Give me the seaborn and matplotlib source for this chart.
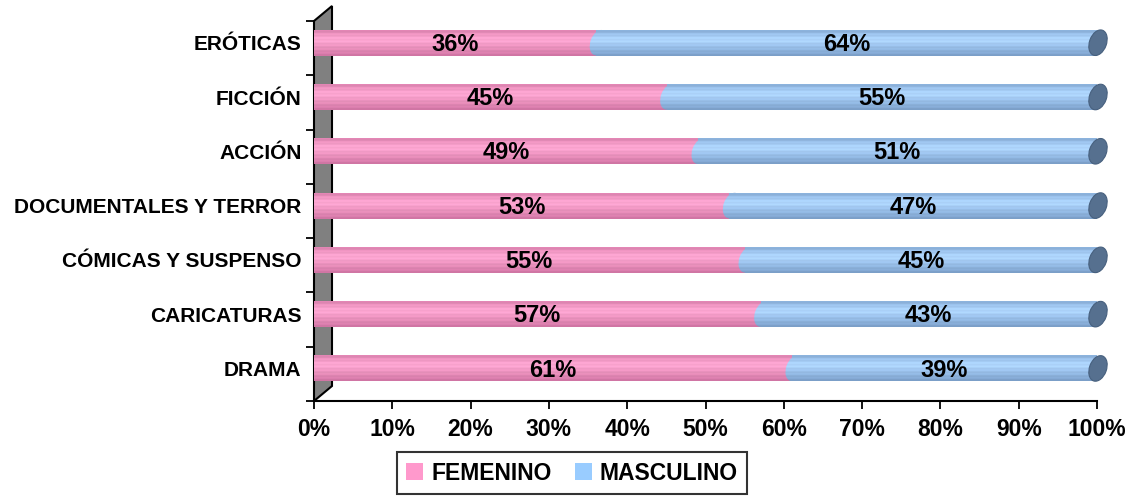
import numpy as np
import pandas as pd
import matplotlib
matplotlib.use("Agg")
import matplotlib.pyplot as plt
import matplotlib.transforms as mtransforms
from matplotlib.patches import Ellipse, Polygon, Patch
import seaborn as sns

categorias = ["ERÓTICAS", "FICCIÓN", "ACCIÓN", "DOCUMENTALES Y TERROR",
              "CÓMICAS Y SUSPENSO", "CARICATURAS", "DRAMA"]
femenino = [36, 45, 49, 53, 55, 57, 61]
masculino = [64, 55, 51, 47, 45, 43, 39]
ticks_x = [0, 10, 20, 30, 40, 50, 60, 70, 80, 90, 100]

sns.set_theme(style="white")
plt.rcParams["font.family"] = ["Liberation Sans", "DejaVu Sans"]
plt.rcParams["font.weight"] = "bold"
plt.rcParams["text.color"] = "black"
plt.rcParams["xtick.color"] = "black"
plt.rcParams["ytick.color"] = "black"

df = pd.DataFrame({"categoria": categorias, "femenino": femenino,
                   "masculino": masculino})
df["total"] = df["femenino"] + df["masculino"]

fig = plt.figure(figsize=(11.31, 4.97), dpi=100)
ax = fig.add_axes([314 / 1131, 96 / 497, 783 / 1131, 380 / 497])

BAR_H = 0.48
sns.barplot(data=df, y="categoria", x="total", color="#8FB5E0",
            orient="h", width=BAR_H, ax=ax, saturation=1)
sns.barplot(data=df, y="categoria", x="femenino", color="#E888B5",
            orient="h", width=BAR_H, ax=ax, saturation=1)

ax.set_xlim(0, 100)
ax.set_ylim(6.6, -0.4)


def cylinder_profile(light, mid, dark, n=60):
    """Vertical colour profile of a shaded tube with fine banding."""
    t = np.linspace(0, 1, n)
    c_light = np.array(matplotlib.colors.to_rgb(light))
    c_mid = np.array(matplotlib.colors.to_rgb(mid))
    c_dark = np.array(matplotlib.colors.to_rgb(dark))
    # bright band slightly above centre, darker toward both edges
    w = np.exp(-((t - 0.4) / 0.22) ** 2)
    base = c_mid[None, :] * (1 - w[:, None]) + c_light[None, :] * w[:, None]
    edge = np.clip(np.abs(t - 0.45) * 2.2 - 0.6, 0, 1)
    base = base * (1 - edge[:, None]) + c_dark[None, :] * edge[:, None]
    stripes = 1 + 0.035 * np.sin(t * np.pi * 14)
    return np.clip(base * stripes[:, None], 0, 1)


pink_prof = cylinder_profile("#FFA6D2", "#E58CB8", "#C7689A")
blue_prof = cylinder_profile("#AFD6FF", "#92B8E2", "#6F92BC")


def shade(patch, prof, x0, x1, y0, y1, z):
    img = np.repeat(prof[:, None, :], 4, axis=1)
    im = ax.imshow(img, extent=(x0, x1, y1, y0), aspect="auto",
                   interpolation="bilinear", zorder=z)
    im.set_clip_path(patch)
    return im


n_cat = len(categorias)
for k, patch in enumerate(ax.patches[:]):
    prof = blue_prof if k < n_cat else pink_prof
    x0, y0 = patch.get_x(), patch.get_y()
    w, h = patch.get_width(), patch.get_height()
    shade(patch, prof, x0, x0 + w, y0, y0 + h, 2.5)
    patch.set_edgecolor("none")

# rounded tube ends: pink start, blue start over the pink, dark blue cap
cap_w, cap_h = 0.17, 0.265
for i, (f, t) in enumerate(zip(df["femenino"], df["total"])):
    y0, y1 = i - BAR_H / 2, i + BAR_H / 2
    tr = fig.dpi_scale_trans + mtransforms.ScaledTranslation(0, i, ax.transData)
    e = Ellipse((0, 0), cap_w, cap_h, angle=-20, transform=tr,
                facecolor="none", edgecolor="none")
    ax.add_patch(e)
    shade(e, pink_prof, -2, 3, y0, y1, 2.4)
    tr = fig.dpi_scale_trans + mtransforms.ScaledTranslation(f, i, ax.transData)
    e = Ellipse((0.03, 0), cap_w, cap_h, angle=-20, transform=tr,
                facecolor="none", edgecolor="none")
    ax.add_patch(e)
    shade(e, blue_prof, f - 3, f + 3, y0, y1, 2.6)
    tr = fig.dpi_scale_trans + mtransforms.ScaledTranslation(t, i, ax.transData)
    ax.add_patch(Ellipse((0.01, 0), cap_w, cap_h, angle=-20, transform=tr,
                         facecolor="#56708F", edgecolor="#47607E", lw=0.8,
                         zorder=3, clip_on=False))

ax.set_xlim(0, 100)
ax.set_ylim(6.6, -0.4)

# value labels
for i, (f, m) in enumerate(zip(df["femenino"], df["masculino"])):
    ax.text(f / 2, i + 0.03, f"{f}%", ha="center", va="center", fontsize=17,
            fontweight="bold", color="black", zorder=5)
    ax.text(f + m / 2, i + 0.03, f"{m}%", ha="center", va="center", fontsize=17,
            fontweight="bold", color="black", zorder=5)

# axes styling
ax.set_xlabel("")
ax.set_ylabel("")
ax.set_xticks(ticks_x)
ax.set_xticklabels([f"{v}%" for v in ticks_x], fontsize=16.5,
                   fontweight="bold", color="black")
ax.set_yticks(range(n_cat))
ax.set_yticklabels(categorias, fontsize=15, fontweight="bold", color="black")
ax.tick_params(axis="y", length=0, pad=9)
ax.set_yticks([i - 0.4 for i in range(n_cat + 1)], minor=True)
ax.tick_params(axis="y", which="minor", length=6, width=1.3, color="black",
               direction="out", left=True)
ax.tick_params(axis="x", length=6, width=1.3, color="black",
               direction="out", bottom=True, pad=6)
for s in ["top", "right", "left"]:
    ax.spines[s].set_visible(False)
ax.spines["bottom"].set_color("black")
ax.spines["bottom"].set_linewidth(1.5)
ax.grid(False)

# grey side wall with depth
fig.canvas.draw()
p0 = ax.transAxes.transform((0, 0))
p1 = ax.transAxes.transform((0, 1))
dx, dy = 18, 15
wall = Polygon([p0, p1, (p1[0] + dx, p1[1] + dy), (p0[0] + dx, p0[1] + dy)],
               closed=True, facecolor="#808080", edgecolor="black", lw=1.5,
               transform=mtransforms.IdentityTransform(), zorder=1)
fig.patches.append(wall)
ax.set_zorder(2)
ax.patch.set_alpha(0)

handles = [Patch(facecolor="#FF99CC", edgecolor="none", label="FEMENINO"),
           Patch(facecolor="#99CCFF", edgecolor="none", label="MASCULINO")]
leg = fig.legend(handles=handles, loc="center",
                 bbox_to_anchor=(572 / 1131, 24 / 497),
                 ncol=2, frameon=True, fancybox=False,
                 handlelength=0.75, handleheight=0.75, handletextpad=0.35,
                 columnspacing=1.0, borderpad=0.4,
                 prop={"weight": "bold", "size": 16.5})
leg.get_frame().set_edgecolor("black")
leg.get_frame().set_linewidth(1.5)
for txt in leg.get_texts():
    txt.set_color("black")

fig.savefig("out.png", dpi=100, facecolor="white")
